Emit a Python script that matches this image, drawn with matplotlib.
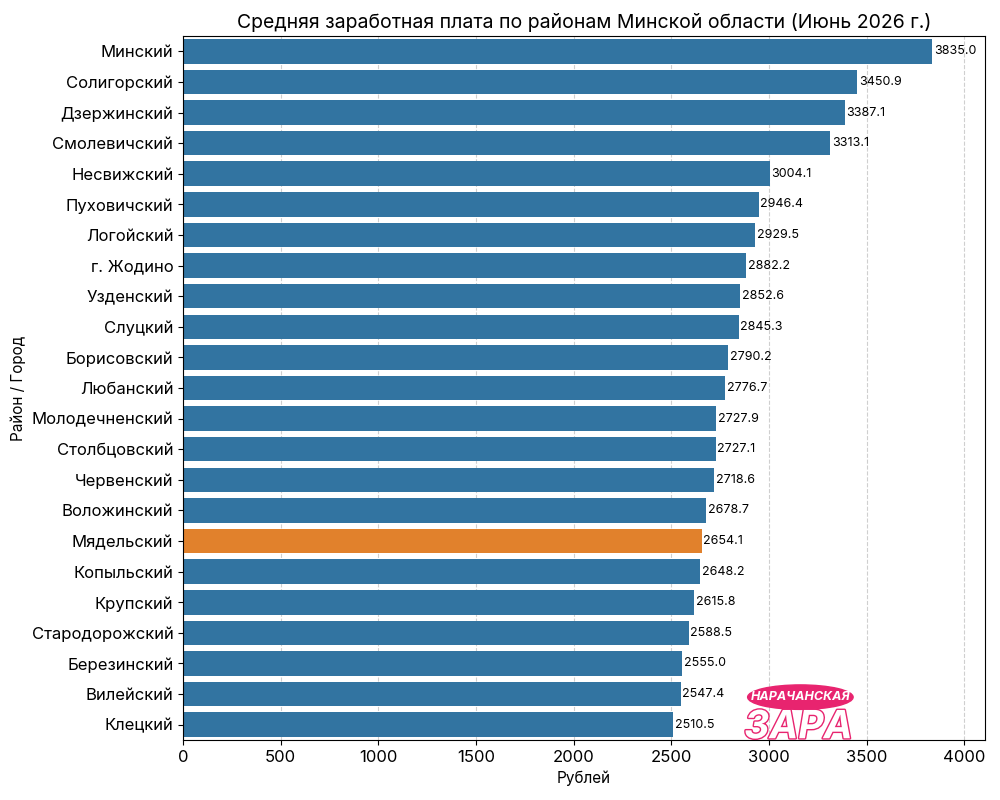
import matplotlib
matplotlib.use("Agg")
import matplotlib.pyplot as plt
import matplotlib.patheffects as pe
from matplotlib.patches import Ellipse

districts = ["Минский", "Солигорский", "Дзержинский", "Смолевичский", "Несвижский",
             "Пуховичский", "Логойский", "г. Жодино", "Узденский", "Слуцкий",
             "Борисовский", "Любанский", "Молодечненский", "Столбцовский", "Червенский",
             "Воложинский", "Мядельский", "Копыльский", "Крупский", "Стародорожский",
             "Березинский", "Вилейский", "Клецкий"]
salaries = [3835.0, 3450.9, 3387.1, 3313.1, 3004.1, 2946.4, 2929.5, 2882.2, 2852.6,
            2845.3, 2790.2, 2776.7, 2727.9, 2727.1, 2718.6, 2678.7, 2654.1, 2648.2,
            2615.8, 2588.5, 2555.0, 2547.4, 2510.5]
highlight = "Мядельский"

BLUE = "#3274A1"
ORANGE = "#E1812C"

plt.rcParams["font.family"] = ["Inter", "DejaVu Sans"]

fig = plt.figure(figsize=(10, 8), dpi=100)
ax = fig.add_axes([0.183, 0.075, 0.802, 0.88])

colors = [ORANGE if d == highlight else BLUE for d in districts]
y = range(len(districts))
ax.barh(y, salaries, height=0.8, color=colors, zorder=2)
for i, v in enumerate(salaries):
    ax.text(v + 8, i, f"{v:.1f}", va="center", ha="left", fontsize=9, zorder=3)

ax.set_yticks(list(y))
ax.set_yticklabels(districts, fontsize=12)
ax.set_ylim(len(districts) - 0.5, -0.5)
ax.set_xlim(0, 4105)
ax.set_xticks(range(0, 4001, 500))
ax.tick_params(axis="x", labelsize=12)
ax.grid(axis="x", linestyle="--", alpha=0.6, zorder=0)
ax.set_axisbelow(True)
ax.set_xlabel("Рублей", fontsize=11)
ax.set_ylabel("Район / Город", fontsize=11)
ax.set_title("Средняя заработная плата по районам Минской области (Июнь 2026 г.)", fontsize=14)

# logo
ax.add_patch(Ellipse((3160, 21.1), 540, 0.8, color="#E8246F", zorder=5))
ax.text(3160, 21.1, "НАРАЧАНСКАЯ", ha="center", va="center", color="white",
        fontsize=9, fontweight="bold", style="italic", zorder=6)
ax.text(3150, 22.1, "ЗАРА", ha="center", va="center", color="white", fontsize=28,
        fontweight="bold", style="italic", zorder=6,
        path_effects=[pe.withStroke(linewidth=2, foreground="#E8246F")])

fig.savefig("out.png", dpi=100)
